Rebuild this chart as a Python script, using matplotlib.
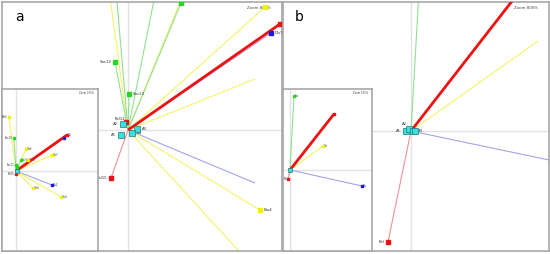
import matplotlib.pyplot as plt

# colours per variable group: thin vector line / point marker
line_col = {'Bio': '#f4f46a', 'Soc': '#92e092', 'Pal': '#f09090', 'Dis': '#a4a4ea', 'Fit': '#ee1111'}
dot_col = {'Bio': '#f2f200', 'Soc': '#22d822', 'Pal': '#ee1111', 'Dis': '#1a1ae0', 'Fit': '#ee1111'}

# ---- panel a, main view (zoom 800%) ----
a_ray_x = [1.27, 1.20, -0.19, 0.57, -0.12, 0.28]
a_ray_y = [0.51, -1.31, 1.40, 1.40, 1.40, 1.40]
a_ray_g = ['Bio', 'Bio', 'Bio', 'Bio', 'Soc', 'Soc']
a_pt_name = ['', 'Dis7', 'Pal14', 'Pal15', 'Soc12', 'Soc13', '', '', 'Bio4']
a_pt_x = [1.52, 1.43, -0.02, -0.17, -0.13, 0.01, 0.53, 1.37, 1.32]
a_pt_y = [1.06, 0.97, 0.08, -0.48, 0.68, 0.36, 1.27, 1.23, -0.80]
a_pt_g = ['Fit', 'Dis', 'Pal', 'Pal', 'Soc', 'Soc', 'Soc', 'Bio', 'Bio']
a_dis_ray = (1.27, -0.53)
a_obj_name = ['A2', 'A1', 'A3', 'A4']
a_obj_x = [-0.05, -0.07, 0.09, 0.04]
a_obj_y = [0.06, -0.05, 0.01, -0.03]

# ---- panel a, inset (zoom 100%) ----
ai_pt_name = ['Bio5', 'Soc10', 'Bio6', 'Soc9', 'Pal16', 'Soc11', '', 'Dis', '', 'Bio7', 'Pal15', 'Dis2', 'Bio8', 'Bio4']
ai_pt_x = [-0.07, -0.02, 0.10, 0.05, 0.12, 0.00, 0.01, 0.51, 0.48, 0.36, 0.00, 0.36, 0.17, 0.45]
ai_pt_y = [0.54, 0.33, 0.22, 0.11, 0.11, 0.06, 0.04, 0.36, 0.33, 0.16, -0.03, -0.14, -0.17, -0.26]
ai_pt_g = ['Bio', 'Soc', 'Bio', 'Soc', 'Bio', 'Soc', 'Soc', 'Fit', 'Dis', 'Bio', 'Pal', 'Dis', 'Bio', 'Bio']
ai_obj_x = [0.01]
ai_obj_y = [0.00]

# ---- panel b, main view (zoom 800%) ----
b_ray_x = [1.05, 0.08, 1.27, 1.50]
b_ray_y = [1.35, 1.40, 0.90, -0.315]
b_ray_g = ['Fit', 'Soc', 'Bio', 'Dis']
b_pt_name = ['Pal']
b_pt_x = [-0.23]
b_pt_y = [-1.11]
b_pt_g = ['Pal']
b_obj_name = ['A1', 'A2', 'A3', '']
b_obj_x = [-0.05, -0.02, 0.02, 0.04]
b_obj_y = [0.00, 0.02, 0.00, 0.00]

# ---- panel b, inset (zoom 100%) ----
bi_pt_name = ['Soc', '', 'Bio', 'Dis', 'Pal']
bi_pt_x = [0.04, 0.44, 0.33, 0.72, -0.02]
bi_pt_y = [0.74, 0.56, 0.24, -0.16, -0.09]
bi_pt_g = ['Soc', 'Fit', 'Bio', 'Dis', 'Pal']
bi_obj_x = [0.0]
bi_obj_y = [0.0]

# where a label sits relative to its mark (default: right)
label_side = {'Pal14': 'above', 'Pal15': 'left', 'Soc12': 'left', 'A1': 'left', 'A2': 'left',
              'Bio5': 'left', 'Soc10': 'left', 'Soc11': 'left', 'Pal': 'left'}
panel_b_side = {'A2': 'above'}


def vec(ax, x, y, g):
    ax.plot([0, x], [0, y], color=line_col[g], lw=2.0 if g == 'Fit' else 0.8,
            zorder=3 if g == 'Fit' else 2, solid_capstyle='butt')


def put_label(ax, x, y, n, dx, dy, fs, sides):
    side = sides.get(n, label_side.get(n, 'right'))
    kw = dict(fontsize=fs, color='#333333')
    if side == 'left':
        ax.text(x - dx, y, n, ha='right', va='center', **kw)
    elif side == 'above':
        ax.text(x - dx * 0.3, y + dy, n, ha='right', va='bottom', **kw)
    else:
        ax.text(x + dx, y, n, ha='left', va='center', **kw)


def biplot(ax, xlim, ylim, rays, pts, objs, zoom_txt, ms, fs, sides={}):
    ax.set_xlim(*xlim)
    ax.set_ylim(*ylim)
    ax.axhline(0, color='#e2e2e2', lw=1, zorder=1)
    ax.axvline(0, color='#e2e2e2', lw=1, zorder=1)
    for x, y, g in zip(*rays):
        vec(ax, x, y, g)
    names, xs, ys, gs = pts
    dx = (xlim[1] - xlim[0]) * 0.012
    dy = (ylim[1] - ylim[0]) * 0.006
    for n, x, y, g in zip(names, xs, ys, gs):
        vec(ax, x, y, g)
        ax.plot(x, y, marker='s', ms=ms, color=dot_col[g], mec=dot_col[g], zorder=4)
        if n:
            put_label(ax, x, y, n, dx, dy, fs, sides)
    onames, ox, oy = objs
    ax.plot(ox, oy, ls='none', marker='s', ms=ms + 1.5, color='#3ddede', mec='#207a7a',
            mew=0.5, zorder=5)
    for n, x, y in zip(onames, ox, oy):
        if n:
            put_label(ax, x, y, n, dx * 1.5, dy * 2, fs, sides)
    ax.text(0.96, 0.985, zoom_txt, transform=ax.transAxes, fontsize=fs, ha='right',
            va='top', color='#444444')
    ax.set_xticks([])
    ax.set_yticks([])
    for s in ax.spines.values():
        s.set_color('#a8a8a8')
        s.set_linewidth(1.2)


fig = plt.figure(figsize=(5.5, 2.54), dpi=100)

ax_a = fig.add_axes([2 / 550, 3 / 254, 280 / 550, 249 / 254])
biplot(ax_a, (-1.26, 1.54), (-1.21, 1.28),
       (a_ray_x, a_ray_y, a_ray_g), (a_pt_name, a_pt_x, a_pt_y, a_pt_g),
       (a_obj_name, a_obj_x, a_obj_y), 'Zoom 800%', 2.5, 2.8)
vec(ax_a, a_dis_ray[0], a_dis_ray[1], 'Dis')
ax_a.text(13 / 280, 1 - 15 / 249, 'a', transform=ax_a.transAxes, fontsize=10, va='center')

ax_ai = fig.add_axes([2 / 550, 3 / 254, 96 / 550, 162 / 254])
biplot(ax_ai, (-0.14, 0.82), (-0.80, 0.82),
       ([], [], []), (ai_pt_name, ai_pt_x, ai_pt_y, ai_pt_g),
       ([''], ai_obj_x, ai_obj_y), 'Zoom 100%', 1.6, 1.8)

ax_b = fig.add_axes([283 / 550, 3 / 254, 266 / 550, 249 / 254])
biplot(ax_b, (-1.28, 1.38), (-1.20, 1.29),
       (b_ray_x, b_ray_y, b_ray_g), (b_pt_name, b_pt_x, b_pt_y, b_pt_g),
       (b_obj_name, b_obj_x, b_obj_y), 'Zoom 800%', 2.5, 2.8, panel_b_side)
ax_b.text(12 / 266, 1 - 15 / 249, 'b', transform=ax_b.transAxes, fontsize=10, va='center')

ax_bi = fig.add_axes([283 / 550, 3 / 254, 89 / 550, 162 / 254])
biplot(ax_bi, (-0.07, 0.82), (-0.81, 0.81),
       ([], [], []), (bi_pt_name, bi_pt_x, bi_pt_y, bi_pt_g),
       ([''], bi_obj_x, bi_obj_y), 'Zoom 100%', 1.6, 1.8)

fig.savefig('out.png', dpi=100, facecolor='white')
